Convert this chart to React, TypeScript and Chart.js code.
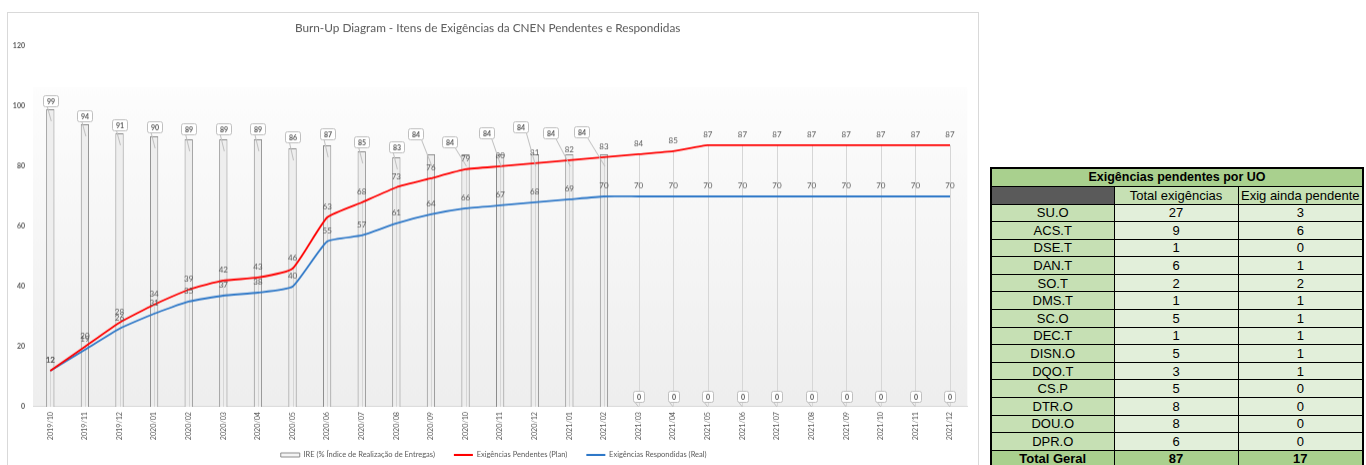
import React, { useEffect, useRef } from "react";
import { Chart, registerables } from "chart.js";

Chart.register(...registerables);

// ---------- data ----------
const months = [
  "2019/10", "2019/11", "2019/12",
  "2020/01", "2020/02", "2020/03", "2020/04", "2020/05", "2020/06",
  "2020/07", "2020/08", "2020/09", "2020/10", "2020/11", "2020/12",
  "2021/01", "2021/02", "2021/03", "2021/04", "2021/05", "2021/06",
  "2021/07", "2021/08", "2021/09", "2021/10", "2021/11", "2021/12",
];
const ireValues = [99, 94, 91, 90, 89, 89, 89, 86, 87, 85, 83, 84, 84, 84, 84, 84, 84, 0, 0, 0, 0, 0, 0, 0, 0, 0, 0];
const planValues = [12, 20, 28, 34, 39, 42, 43, 46, 63, 68, 73, 76, 79, 80, 81, 82, 83, 84, 85, 87, 87, 87, 87, 87, 87, 87, 87];
const realValues = [12, 19, 26, 31, 35, 37, 38, 40, 55, 57, 61, 64, 66, 67, 68, 69, 70, 70, 70, 70, 70, 70, 70, 70, 70, 70, 70];
const yMin = 0;
const yMax = 120;
const yStep = 20;

const titleText = "Burn-Up Diagram - Itens de Exigências da CNEN Pendentes e Respondidas";
const seriesNames = [
  "IRE (% Índice de Realização de Entregas)",
  "Exigências Pendentes (Plan)",
  "Exigências Respondidas (Real)",
];

// table data
const tableTitle = "Exigências pendentes por UO";
const tableHeaders = ["Total exigências", "Exig ainda pendente"];
const uoNames = ["SU.O", "ACS.T", "DSE.T", "DAN.T", "SO.T", "DMS.T", "SC.O", "DEC.T", "DISN.O", "DQO.T", "CS.P", "DTR.O", "DOU.O", "DPR.O"];
const uoTotals = [27, 9, 1, 6, 2, 1, 5, 1, 5, 3, 5, 8, 8, 6];
const uoPending = [3, 6, 0, 1, 2, 1, 1, 1, 1, 1, 0, 0, 0, 0];
const totalLabel = "Total Geral";
const totalAll = 87;
const totalPending = 17;

// ---------- styles (label placement offsets for the bar callouts, in px) ----------
const calloutShift: [number, number][] = [
  [0, -8], [0, -8], [0, -8], [0, -9], [0, -10], [0, -10], [0, -10], [0, -11], [0, -11], [0, -9], [0, -10],
  [-15, -20], [-16, -12], [-14, -21], [-14, -27], [-19, -21], [-22, -22],
  [0, -10], [0, -10], [0, -10], [0, -10], [0, -10], [0, -10], [0, -10], [0, -10], [0, -10], [0, -10],
];

const FONT = "Lato, 'Open Sans', sans-serif";
const GREY = "#595959";
const RED = "#ff0000";
const BLUE = "#2e78c8";

const burnupPlugin = {
  id: "burnup",
  afterLayout(chart: any) {
    const lg = chart.legend;
    if (lg) {
      lg.top -= 14.75;
      lg.bottom -= 14.75;
      lg.left += 6;
      lg.right += 6;
    }
  },
  beforeDraw(chart: any) {
    const { ctx, chartArea: a } = chart;
    const top = a.top + (a.bottom - a.top) * 0.114;
    const g = ctx.createLinearGradient(0, top, 0, a.bottom);
    g.addColorStop(0, "#fdfdfd");
    g.addColorStop(1, "#eeeeee");
    ctx.save();
    ctx.fillStyle = g;
    ctx.fillRect(a.left, top, a.right - a.left, a.bottom - top);
    ctx.restore();
  },
  beforeDatasetDraw(chart: any, args: any) {
    if (args.index !== 2) return;
    const { ctx, chartArea: a } = chart;
    const red = chart.getDatasetMeta(1);
    ctx.save();
    ctx.strokeStyle = "#d6d6d6";
    ctx.lineWidth = 1;
    red.data.forEach((p: any) => {
      const x = Math.round(p.x) + 0.5;
      ctx.beginPath();
      ctx.moveTo(x, p.y);
      ctx.lineTo(x, a.bottom);
      ctx.stroke();
    });
    ctx.restore();
  },
  afterDatasetsDraw(chart: any) {
    const { ctx } = chart;
    ctx.save();
    // line value labels
    ctx.font = `8px ${FONT}`;
    ctx.fillStyle = GREY;
    ctx.textAlign = "center";
    ctx.textBaseline = "middle";
    [1, 2].forEach((di) => {
      const meta = chart.getDatasetMeta(di);
      const vals = chart.data.datasets[di].data as number[];
      meta.data.forEach((p: any, i: number) => {
        ctx.fillText(String(vals[i]), p.x, p.y - 11);
      });
    });
    // bar callouts
    const barMeta = chart.getDatasetMeta(0);
    const barVals = chart.data.datasets[0].data as number[];
    ctx.font = `bold 7px ${FONT}`;
    barMeta.data.forEach((bar: any, i: number) => {
      const v = barVals[i];
      const txt = String(v);
      const [dx, dy] = calloutShift[i] || [0, -10];
      const cx = bar.x + dx;
      const cy = bar.y + dy;
      const w = ctx.measureText(txt).width + 7;
      const h = 11;
      const left = cx - w / 2;
      const top = cy - h / 2;
      const tx = v > 0 ? bar.x + 1 : bar.x;
      const ty = v > 0 ? bar.y + 12 : bar.y;
      const sx = Math.min(Math.max(tx - 4, left + 2), left + w - 2);
      ctx.strokeStyle = "#bfbfbf";
      ctx.lineWidth = 1;
      ctx.beginPath();
      ctx.moveTo(sx, top + h);
      ctx.lineTo(tx, ty);
      ctx.stroke();
      ctx.beginPath();
      (ctx as any).roundRect(Math.round(left) + 0.5, Math.round(top) + 0.5, Math.round(w), h, 2);
      ctx.fillStyle = "#ffffff";
      ctx.fill();
      ctx.stroke();
      ctx.fillStyle = GREY;
      ctx.fillText(txt, Math.round(left) + 0.5 + Math.round(w) / 2, Math.round(top) + 0.5 + h / 2 + 0.5);
    });
    ctx.restore();
  },
};

function BurnUpChart() {
  const ref = useRef<HTMLCanvasElement | null>(null);
  useEffect(() => {
    if (!ref.current) return;
    const chart = new Chart(ref.current, {
      type: "bar",
      data: {
        labels: months,
        datasets: [
          {
            type: "bar",
            label: seriesNames[0],
            data: ireValues,
            backgroundColor: "#eeeeee",
            borderColor: "#8c8c8c",
            borderWidth: 1,
            barPercentage: 0.24,
            categoryPercentage: 1,
            order: 3,
          } as any,
          {
            type: "line",
            label: seriesNames[1],
            data: planValues,
            borderColor: RED,
            backgroundColor: RED,
            borderWidth: 1.8,
            pointRadius: 0,
            tension: 0.15,
            fill: false,
            order: 1,
          } as any,
          {
            type: "line",
            label: seriesNames[2],
            data: realValues,
            borderColor: BLUE,
            backgroundColor: BLUE,
            borderWidth: 1.8,
            pointRadius: 0,
            tension: 0.15,
            fill: false,
            order: 2,
          } as any,
        ],
      },
      options: {
        animation: false,
        responsive: true,
        maintainAspectRatio: false,
        layout: { padding: { left: 0, right: 8.7, top: 0, bottom: 0 } },
        plugins: {
          tooltip: { enabled: false },
          title: {
            display: true,
            text: titleText,
            color: GREY,
            font: { family: FONT, size: 11.8, weight: "normal" },
            padding: { top: 8, bottom: 10.8 },
          },
          legend: {
            display: true,
            position: "bottom",
            labels: {
              color: GREY,
              font: { family: FONT, size: 7.5 },
              usePointStyle: true,
              pointStyleWidth: 19,
              boxHeight: 4,
              padding: 19,
              sort: (a: any, b: any) => a.datasetIndex - b.datasetIndex,
              generateLabels: (c: any) => {
                const items = (Chart.defaults.plugins.legend.labels as any).generateLabels(c);
                return items.map((it: any) => {
                  if (it.datasetIndex === 0) {
                    return { ...it, pointStyle: "rect", fillStyle: "#f4f4f4", strokeStyle: "#8c8c8c", lineWidth: 1 };
                  }
                  return { ...it, pointStyle: "line", lineWidth: 2 };
                });
              },
            },
          },
        },
        scales: {
          x: {
            offset: true,
            grid: { display: false, drawTicks: false },
            border: { display: true, color: "#d9d9d9" },
            ticks: {
              autoSkip: false,
              maxRotation: 90,
              minRotation: 90,
              padding: 5,
              color: GREY,
              font: { family: FONT, size: 7.2 },
            },
            afterFit: (s: any) => {
              s.height = 40;
            },
          },
          y: {
            min: yMin,
            max: yMax,
            grid: { display: false, drawTicks: false },
            border: { display: false },
            ticks: {
              stepSize: yStep,
              padding: 8,
              color: GREY,
              font: { family: FONT, size: 7, weight: "bold" },
            },
            afterFit: (s: any) => {
              s.width = 25;
            },
          },
        },
      } as any,
      plugins: [burnupPlugin],
    });
    return () => chart.destroy();
  }, []);
  return (
    <div style={{ position: "absolute", left: 8, top: 13, width: 968, height: 469.5 }}>
      <canvas ref={ref} style={{ display: "block" }} />
    </div>
  );
}

function UoTable() {
  const b = "1.5px solid #000";
  const td = (bg: string, extra: any = {}) => ({
    background: bg,
    border: b,
    padding: 0,
    textAlign: "center" as const,
    verticalAlign: "middle" as const,
    lineHeight: "15px",
    overflow: "hidden",
    whiteSpace: "nowrap" as const,
    ...extra,
  });
  const rowH = 17.6;
  return (
    <table
      style={{
        position: "absolute",
        left: 990,
        top: 167,
        width: 372,
        borderCollapse: "collapse",
        border: "2.5px solid #000",
        tableLayout: "fixed",
        fontFamily: "'Liberation Sans', Arial, sans-serif",
        fontSize: 13,
        color: "#000",
      }}
    >
      <colgroup>
        <col style={{ width: 123 }} />
        <col style={{ width: 124 }} />
        <col style={{ width: 125 }} />
      </colgroup>
      <tbody>
        <tr style={{ height: 18 }}>
          <td colSpan={3} style={td("#a9d08e", { fontWeight: "bold", fontSize: 12.5 })}>{tableTitle}</td>
        </tr>
        <tr style={{ height: 18 }}>
          <td
            style={td("#c6e0b4", {
              background: "repeating-conic-gradient(#000 0% 25%, #b4b4b4 0% 50%) 0 0 / 2px 2px",
            })}
          ></td>
          <td style={td("#c6e0b4")}>{tableHeaders[0]}</td>
          <td style={td("#c6e0b4")}>{tableHeaders[1]}</td>
        </tr>
        {uoNames.map((n, i) => (
          <tr key={n} style={{ height: rowH }}>
            <td style={td("#c6e0b4")}>{n}</td>
            <td style={td("#e2efda")}>{uoTotals[i]}</td>
            <td style={td("#e2efda")}>{uoPending[i]}</td>
          </tr>
        ))}
        <tr style={{ height: rowH }}>
          <td style={td("#a9d08e", { fontWeight: "bold" })}>{totalLabel}</td>
          <td style={td("#a9d08e", { fontWeight: "bold" })}>{totalAll}</td>
          <td style={td("#a9d08e", { fontWeight: "bold" })}>{totalPending}</td>
        </tr>
      </tbody>
    </table>
  );
}

export default function App() {
  return (
    <div
      style={{
        position: "absolute",
        left: 0,
        top: 0,
        width: 1366,
        height: 465,
        overflow: "hidden",
        background: "#ffffff",
      }}
    >
      <div
        style={{
          position: "absolute",
          left: 7,
          top: 12,
          width: 972,
          height: 470,
          border: "1px solid #d9d9d9",
          boxSizing: "border-box",
        }}
      />
      <BurnUpChart />
      <UoTable />
    </div>
  );
}
